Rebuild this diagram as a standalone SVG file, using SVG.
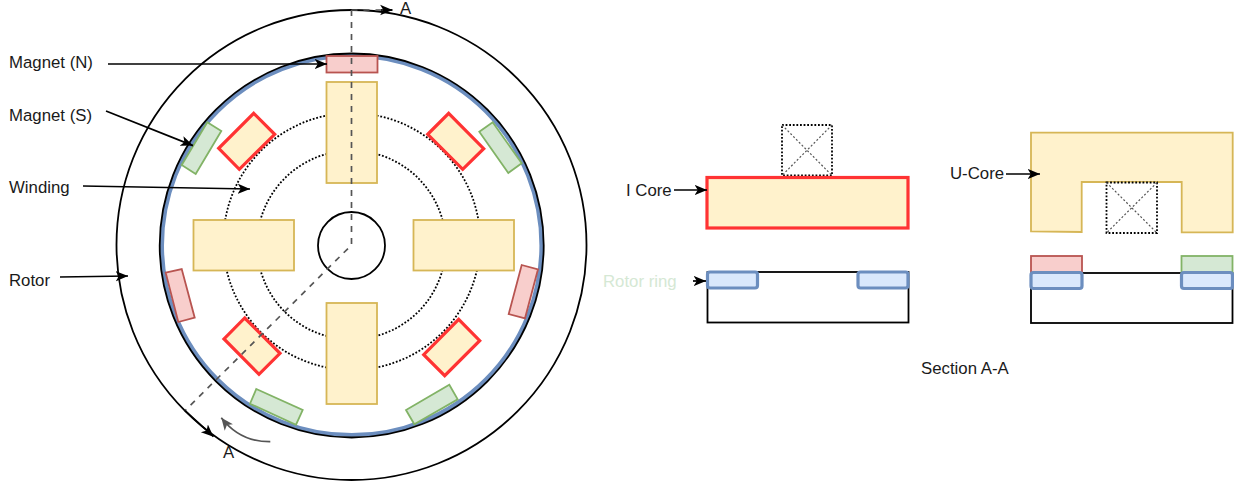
<svg xmlns="http://www.w3.org/2000/svg" width="1234" height="482" viewBox="0 0 1234 482">
<style>
text{font-family:"Liberation Sans",Arial,sans-serif;font-size:16.8px;fill:#1a1a1a}
.ring{fill:none;stroke:#000;stroke-width:1.8}
.dot{fill:none;stroke:#000;stroke-width:1.8;stroke-dasharray:1.8 1.8}
.core{fill:#fff2cc;stroke:#d6b656;stroke-width:1.8}
.redcore{fill:#fff2cc;stroke:#ff3333;stroke-width:3.2}
.n{fill:#f8cecc;stroke:#b85450;stroke-width:1.8}
.s{fill:#d5e8d4;stroke:#82b366;stroke-width:1.8}
.blue{fill:#dae8fc;stroke:#6c8ebf;stroke-width:3.2}
.coil{fill:#fff;stroke:#000;stroke-width:1.8;stroke-dasharray:1.8 1.8}
.cross{stroke:#555;stroke-width:1.2;stroke-dasharray:2 2;fill:none}
.conn{fill:none;stroke:#000;stroke-width:1.7;marker-end:url(#arr)}
.dash{fill:none;stroke:#555;stroke-width:1.7;stroke-dasharray:6 6}
</style>
<defs>
<marker id="arr" viewBox="0 0 10 10" refX="9.5" refY="5" markerWidth="13" markerHeight="13" markerUnits="userSpaceOnUse" orient="auto"><path d="M0 1L9.5 5L0 9L2.4 5Z" fill="#000"/></marker>
<marker id="arrg" viewBox="0 0 10 10" refX="9.5" refY="5" markerWidth="13" markerHeight="13" markerUnits="userSpaceOnUse" orient="auto"><path d="M0 1L9.5 5L0 9L2.4 5Z" fill="#555"/></marker>
</defs>
<g id="stator-machine">
<g id="rotor-outer"><circle class="ring" cx="351.5" cy="245" r="235"/></g>
<g id="rotor-ring"><circle cx="351.7" cy="245.4" r="189.7" fill="#fff" stroke="#6c8ebf" stroke-width="4"/><circle class="ring" cx="351.7" cy="245.5" r="192"/></g>
<g id="winding"><circle class="dot" cx="351.8" cy="241.5" r="128.4"/><circle class="dot" cx="351.5" cy="245" r="94.4"/></g>
<g id="shaft"><circle class="ring" cx="351.5" cy="245.5" r="33.5"/></g>
<g id="core-top"><rect class="core" x="326.5" y="82" width="50.5" height="101"/></g>
<g id="core-left"><rect class="core" x="193.5" y="220" width="100.5" height="50.5"/></g>
<g id="core-right"><rect class="core" x="413.5" y="220" width="100.5" height="50.5"/></g>
<g id="core-bottom"><rect class="core" x="326.5" y="303" width="50.5" height="101"/></g>
<g id="icore-ul"><polygon class="redcore" points="253.7,113.3 274.7,134.3 239.3,169.3 218.7,148.3"/></g>
<g id="icore-ur"><polygon class="redcore" points="448.7,113.3 483.7,148.7 462.7,169.3 427.7,134.3"/></g>
<g id="icore-ll"><polygon class="redcore" points="244.7,318 280,353.3 259,374.3 224,339"/></g>
<g id="icore-lr"><polygon class="redcore" points="458.7,319.3 479.7,340.7 444.7,375.7 423.7,354.7"/></g>
<g id="magnet-top"><rect class="n" x="326.5" y="56" width="51" height="16.5"/></g>
<g id="magnet-ul"><polygon class="s" points="207.3,122.3 221.3,131 195.7,174 181.7,165"/></g>
<g id="magnet-ur"><polygon class="s" points="492.7,122.3 521.7,163.3 508.3,173 479.3,131.7"/></g>
<g id="magnet-l"><polygon class="n" points="165.7,272.7 181.7,269 194.7,317.7 178.3,322"/></g>
<g id="magnet-r"><polygon class="n" points="521.7,265 538,269.3 525,318.3 508.7,314"/></g>
<g id="magnet-ll"><polygon class="s" points="256.3,389 302.7,410 296,424.7 250,403.7"/></g>
<g id="magnet-lr"><polygon class="s" points="449.3,384.7 457.7,399.3 414.3,424.3 406,410"/></g>
</g>
<g id="section-i">
<g id="coil-i"><rect class="coil" x="782" y="125" width="50" height="50.5"/><path class="cross" d="M782 125L832 175.5M832 125L782 175.5"/></g>
<g id="i-core"><rect class="redcore" x="707" y="177.5" width="201" height="50.5"/></g>
<g id="ring-i"><rect class="ring" x="707.5" y="272" width="201" height="50.5"/><rect class="blue" x="707.5" y="272" width="50" height="16" rx="2.5"/><rect class="blue" x="858" y="272" width="50" height="16" rx="2.5"/></g>
</g>
<g id="section-u">
<g id="u-core"><polygon class="core" points="1031,132.7 1232.7,132.7 1232.7,232.3 1181.7,232.3 1181.7,182 1081.7,182 1081.7,232 1031,231.3"/></g>
<g id="coil-u"><rect class="coil" x="1106.5" y="182.5" width="50.5" height="50.5"/><path class="cross" d="M1106.5 182.5L1157 233M1157 182.5L1106.5 233"/></g>
<g id="ring-u"><rect class="ring" x="1031" y="273" width="201.5" height="50"/><rect class="n" x="1031" y="256" width="51" height="16.5"/><rect class="s" x="1181.5" y="256" width="51" height="16.5"/><rect class="blue" x="1031" y="272.5" width="51" height="16" rx="2.5"/><rect class="blue" x="1181.5" y="272.5" width="51" height="16" rx="2.5"/></g>
</g>
<g id="connectors">
<path class="conn" d="M108 64H327"/>
<path class="conn" d="M106 111L193 145.6"/>
<path class="conn" d="M83 186L250 189"/>
<path class="conn" d="M60 277L128 276"/>
<path class="conn" d="M674 190H707"/>
<path class="conn" d="M693 281H706"/>
<path class="conn" d="M1006 174H1040"/>
<path class="dash" d="M351.5 10V245L185 410.7"/>
<path class="dash" d="M351.5 10H392" />
<path class="conn" d="M381 10H392.5"/>
<path class="conn" d="M185 410.7L213.5 436.7"/>
<path d="M270.3 441.7Q240 442 221.3 417.7" fill="none" stroke="#555" stroke-width="1.7" marker-end="url(#arrg)"/>
</g>
<g id="labels">
<text x="9" y="68">Magnet (N)</text>
<text x="9" y="121">Magnet (S)</text>
<text x="9" y="193">Winding</text>
<text x="9" y="286">Rotor</text>
<text x="400" y="14">A</text>
<text x="223" y="458">A</text>
<text x="626" y="196">I Core</text>
<text x="603" y="287" style="fill:#d5e8d4">Rotor ring</text>
<text x="950" y="179">U-Core</text>
<text x="921" y="374">Section A-A</text>
</g>
</svg>
